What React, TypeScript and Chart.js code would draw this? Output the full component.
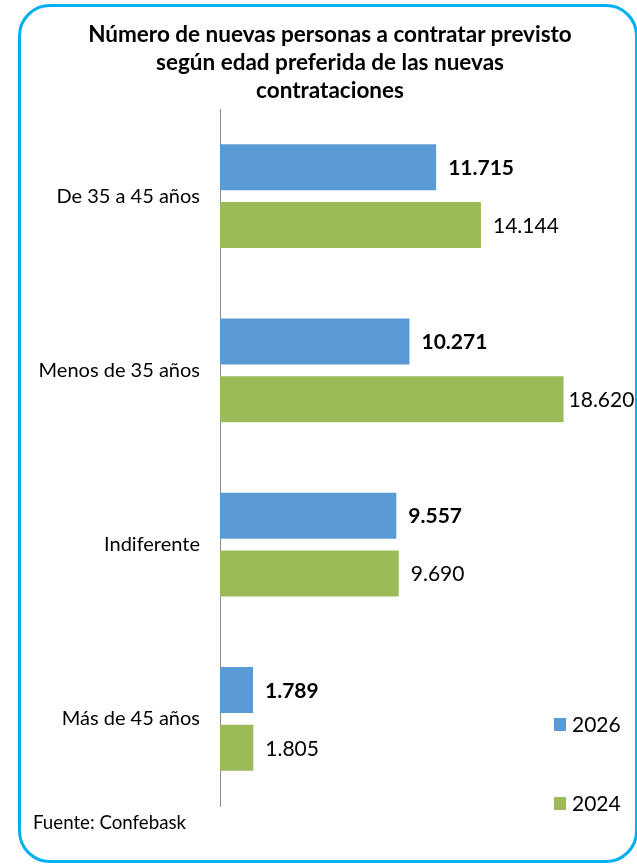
import React, { useEffect, useRef } from "react";
import { Chart, registerables } from "chart.js";

Chart.register(...registerables);

const categories = ["De 35 a 45 años", "Menos de 35 años", "Indiferente", "Más de 45 años"];
const values2026 = [11715, 10271, 9557, 1789];
const values2024 = [14144, 18620, 9690, 1805];
const seriesLabels = ["2026", "2024"];
const titleLines = [
  "Número de nuevas personas a contratar previsto",
  "según edad preferida de las nuevas",
  "contrataciones",
];
const sourceText = "Fuente: Confebask";

const FONT = "Lato, 'Noto Sans', sans-serif";
const BLUE = "#5b9bd5";
const GREEN = "#9bbb59";

const fmt = (n: number) => n.toString().replace(/\B(?=(\d{3})+(?!\d))/g, ".");

const valueLabels = {
  id: "valueLabels",
  afterDatasetsDraw(chart: any) {
    const ctx = chart.ctx;
    ctx.save();
    chart.data.datasets.forEach((ds: any, di: number) => {
      const meta = chart.getDatasetMeta(di);
      ctx.font = (di === 0 ? "bold " : "") + "21px " + FONT;
      ctx.fillStyle = "#000";
      ctx.textAlign = "left";
      ctx.textBaseline = "middle";
      meta.data.forEach((bar: any, i: number) => {
        const txt = fmt(ds.data[i]);
        const w = ctx.measureText(txt).width;
        const x = Math.max(bar.x + 5, Math.min(bar.x + 12, chart.width - 3 - w));
        ctx.fillText(txt, x, bar.y + 1);
      });
    });
    ctx.restore();
  },
};

const sideLegend = {
  id: "sideLegend",
  afterDraw(chart: any) {
    const ctx = chart.ctx;
    const ys = [724, 803];
    ctx.save();
    chart.data.datasets.forEach((ds: any, di: number) => {
      const y = ys[di];
      ctx.fillStyle = ds.backgroundColor;
      ctx.fillRect(554, y - 6, 12, 13);
      ctx.fillStyle = "#000";
      ctx.font = "21px " + FONT;
      ctx.textAlign = "left";
      ctx.textBaseline = "middle";
      ctx.fillText(ds.label, 572, y + 1);
    });
    ctx.restore();
  },
};

export default function App() {
  const ref = useRef<HTMLCanvasElement>(null);
  useEffect(() => {
    if (!ref.current) return;
    const chart = new Chart(ref.current, {
      type: "bar",
      data: {
        labels: categories,
        datasets: [
          { label: seriesLabels[0], data: values2026, backgroundColor: BLUE, categoryPercentage: 0.665, barPercentage: 0.793 },
          { label: seriesLabels[1], data: values2024, backgroundColor: GREEN, categoryPercentage: 0.665, barPercentage: 0.793 },
        ],
      },
      options: {
        indexAxis: "y",
        animation: false,
        responsive: false,
        layout: { padding: { top: 109, bottom: 58, left: 0, right: 48 } },
        plugins: { legend: { display: false }, tooltip: { enabled: false }, title: { display: false } },
        scales: {
          x: { display: false, min: 0, max: 20000 },
          y: {
            grid: { display: false, drawTicks: false },
            border: { display: true, color: "#8c8c8c", width: 1 },
            ticks: { color: "#000", font: { family: FONT, size: 20 }, padding: 20 },
            afterFit(scale: any) {
              scale.width = 220;
            },
          },
        },
      },
      plugins: [valueLabels, sideLegend],
    });
    return () => chart.destroy();
  }, []);

  return (
    <div style={{ position: "relative", width: 637, height: 864, background: "#fff", overflow: "hidden" }}>
      <style>{"body{margin:0}"}</style>
      <div
        style={{
          position: "absolute",
          left: 18,
          top: 4,
          width: 614,
          height: 853,
          border: "3px solid #00b0f0",
          borderRadius: 32,
        }}
      />
      <canvas ref={ref} width={637} height={864} style={{ position: "absolute", left: 0, top: 0 }} />
      <div
        style={{
          position: "absolute",
          left: 30,
          width: 600,
          top: 20,
          textAlign: "center",
          fontFamily: FONT,
          fontWeight: "bold",
          fontSize: 22.5,
          lineHeight: "28px",
          color: "#000",
        }}
      >
        {titleLines.map((l, i) => (
          <div key={i}>{l}</div>
        ))}
      </div>
      <div
        style={{
          position: "absolute",
          left: 33,
          top: 811,
          fontFamily: FONT,
          fontSize: 18.7,
          lineHeight: "22px",
          color: "#000",
        }}
      >
        {sourceText}
      </div>
    </div>
  );
}
